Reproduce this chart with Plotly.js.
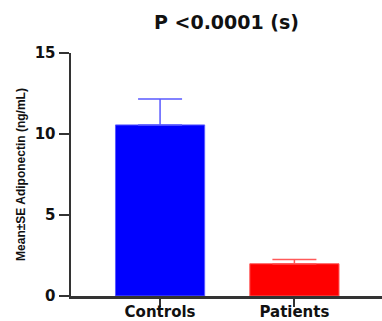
<!DOCTYPE html>
<html>
<head>
<meta charset="utf-8">
<script src="https://cdn.plot.ly/plotly-3.0.1.min.js"></script>
<style>html,body{margin:0;padding:0;background:#fff;}#chart{width:382px;height:321px;}</style>
</head>
<body>
<div id="chart"></div>
<script>
const categories = ["Controls", "Patients"];
const means = [10.56, 1.99];
const errors = [1.6, 0.27];
const barColors = ["#0000ff", "#ff0000"];
const errColors = ["#5a5aff", "#ff5a5a"];
const yTicks = [0, 5, 10, 15];

const traces = categories.map((c, i) => ({
  type: "bar",
  x: [i],
  y: [means[i]],
  width: 0.664,
  marker: {color: barColors[i], line: {color: errColors[i], width: 1}},
  error_y: {type: "data", symmetric: false, array: [errors[i]], arrayminus: [0],
            color: errColors[i], thickness: 1.5, width: 22},
  hoverinfo: "none",
  showlegend: false
}));

const layout = {
  width: 382, height: 321,
  margin: {l: 71, r: 0, t: 53, b: 25, pad: 0},
  paper_bgcolor: "#fff", plot_bgcolor: "#fff",
  title: {text: "<b>P <0.0001 (s)</b>", font: {family: "DejaVu Sans", size: 19, color: "#111"},
          x: 0.5, xref: "paper", y: 1 - 22/321, yref: "container", yanchor: "middle"},
  xaxis: {
    range: [-0.663, 1.652], tickmode: "array", tickvals: categories.map((c, i) => i),
    ticktext: categories.map(c => "<b>" + c + "</b>"),
    showgrid: false, zeroline: false, showline: true, linecolor: "#333", linewidth: 2.5,
    ticks: "outside", ticklen: 8, tickwidth: 2, tickcolor: "#333",
    ticklabelstandoff: -8,
    tickfont: {family: "DejaVu Sans", size: 15, color: "#111"}, fixedrange: true
  },
  yaxis: {
    range: [0, 15], tickmode: "array", tickvals: yTicks,
    ticktext: yTicks.map(v => "<b>" + v + "</b>"),
    showgrid: false, zeroline: false, showline: true, linecolor: "#333", linewidth: 2.5,
    ticks: "outside", ticklen: 10, tickwidth: 2, tickcolor: "#333",
    tickfont: {family: "DejaVu Sans", size: 15, color: "#111"},
    title: {text: "<b>Mean±SE Adiponectin (ng/mL)</b>", font: {family: "Liberation Sans, Arial, sans-serif", size: 12, color: "#111"}, standoff: 7},
    fixedrange: true
  },
  bargap: 0
};

Plotly.newPlot("chart", traces, layout, {staticPlot: true, displayModeBar: false});
</script>
</body>
</html>
